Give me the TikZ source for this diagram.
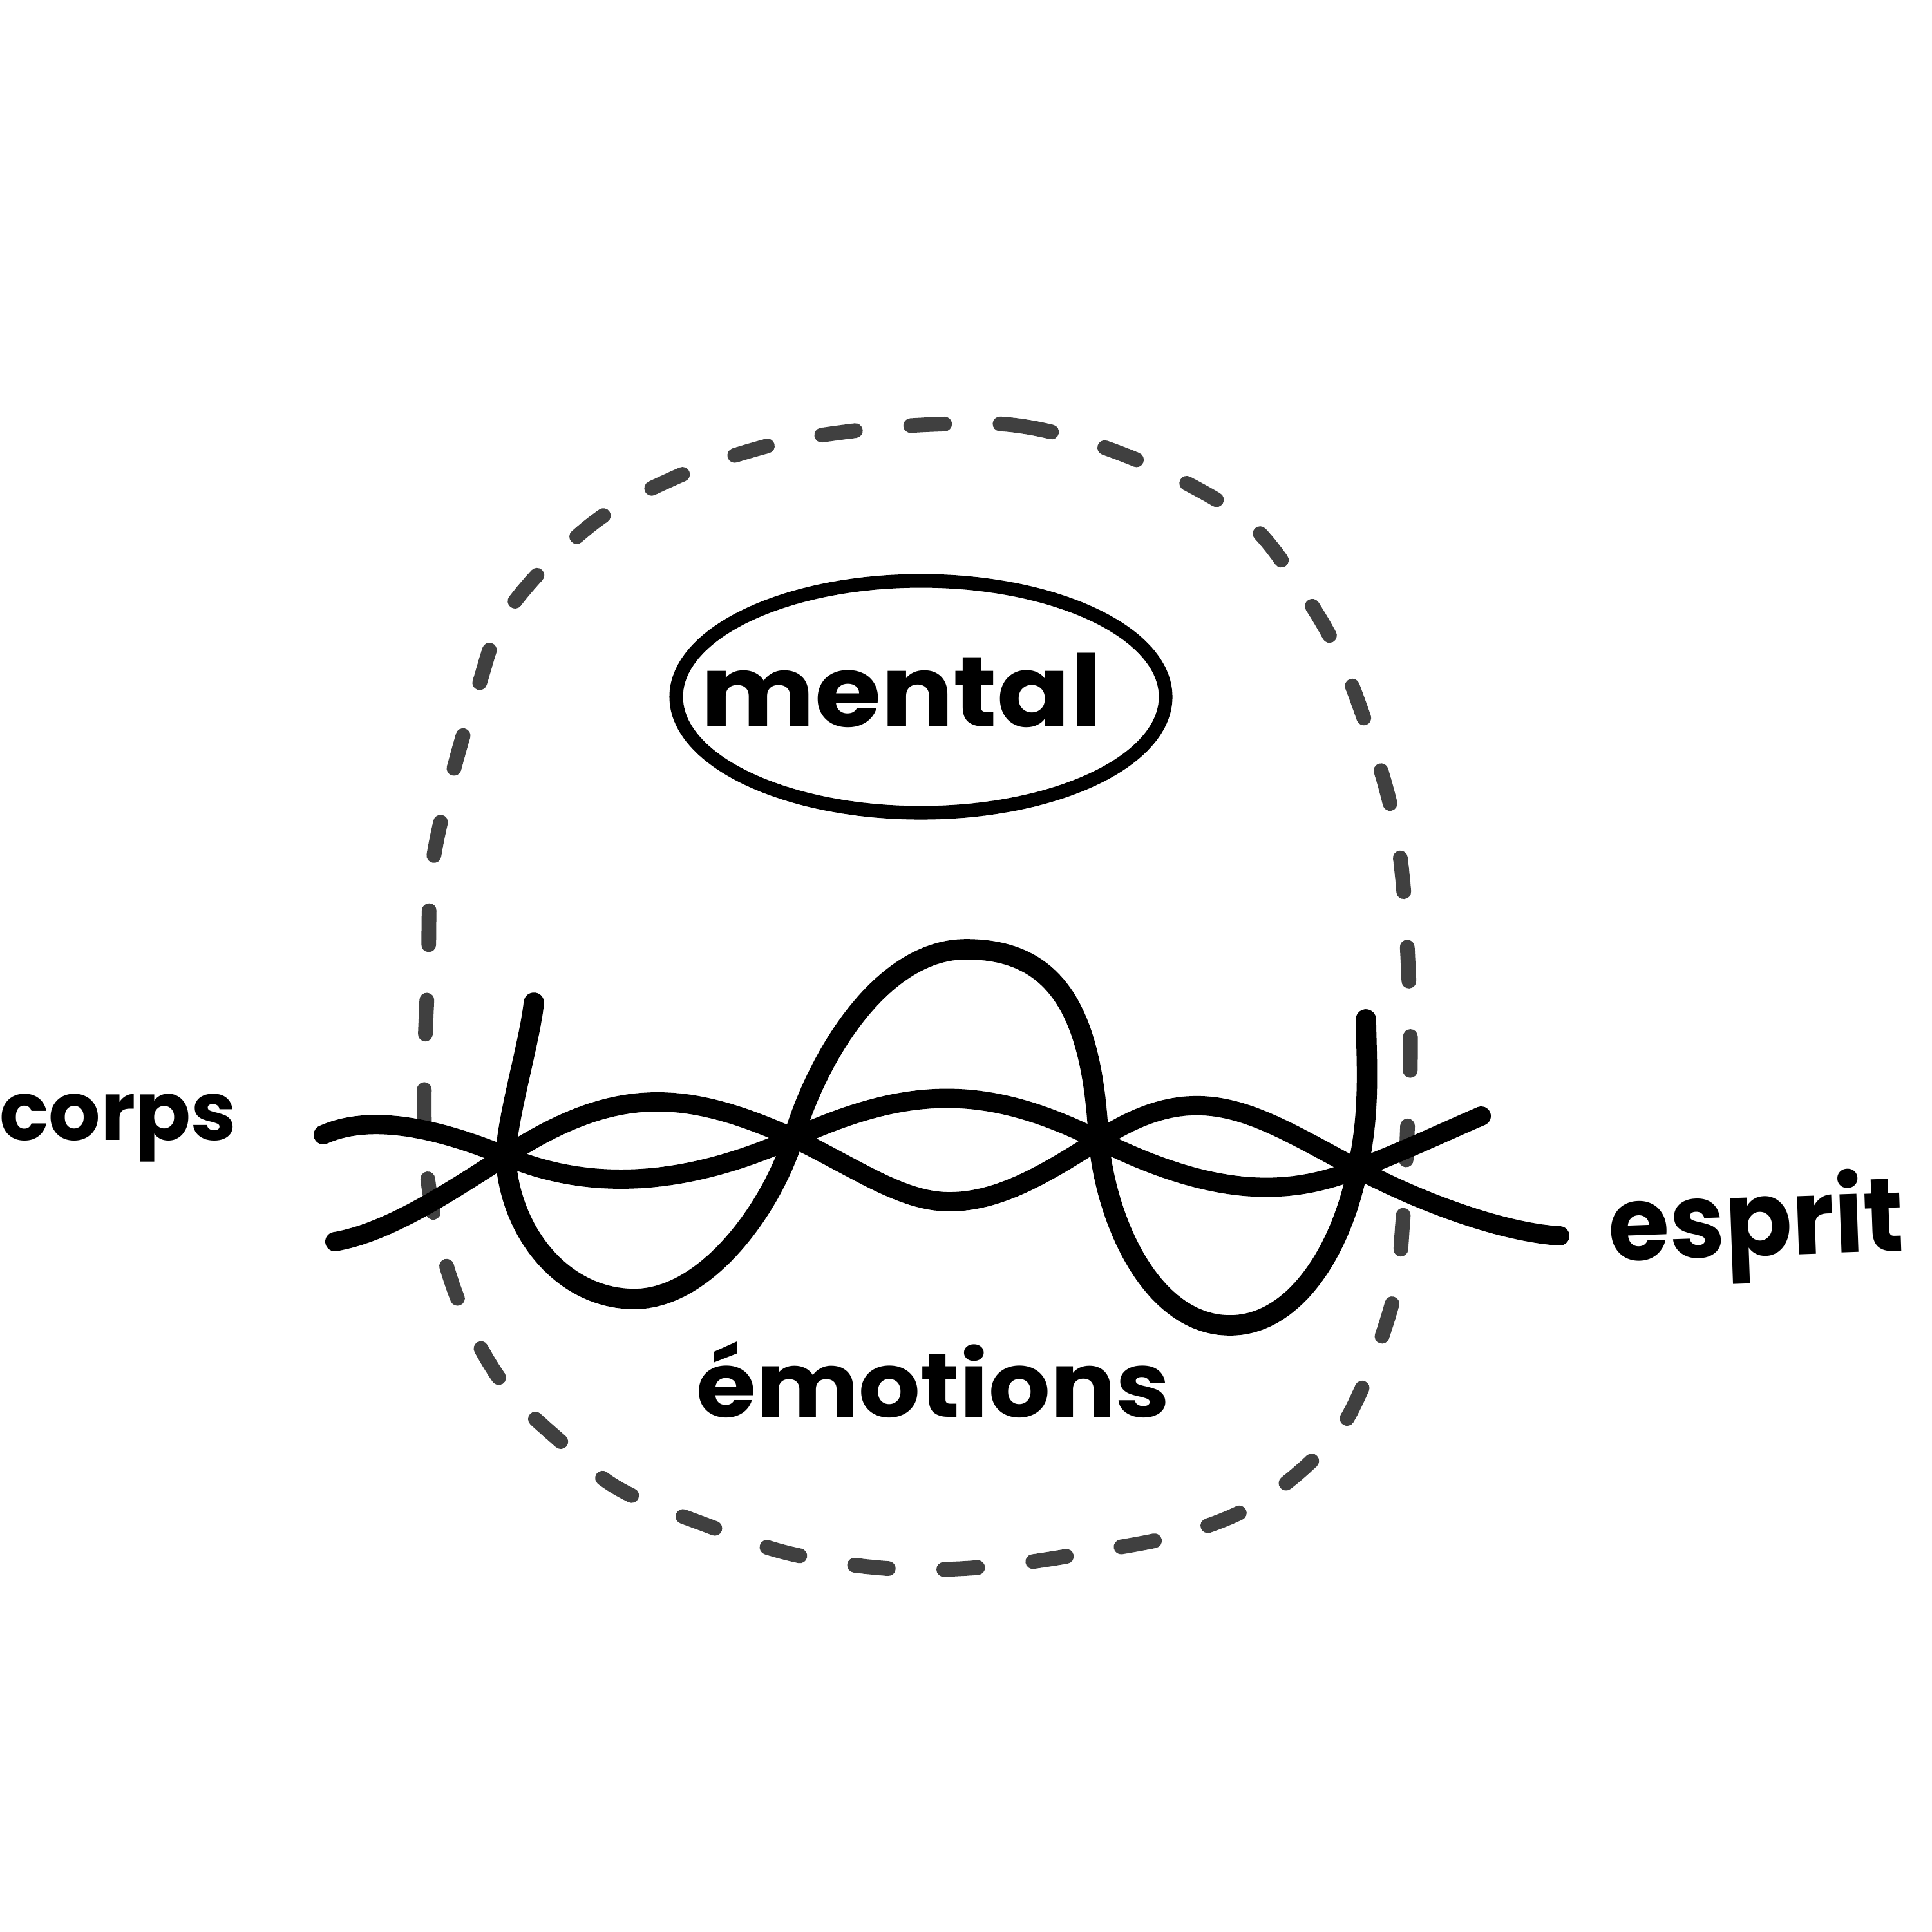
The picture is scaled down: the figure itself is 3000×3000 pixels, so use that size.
\documentclass[tikz,border=0pt]{standalone}
\usepackage{fontspec}
\newfontfamily\hand{Poppins}
\begin{document}
\begin{tikzpicture}[x=0.01cm, y=-0.01cm, line cap=round, line join=round]
\tikzset{
  wave/.style={line width=8.5pt, draw=black},
  loopline/.style={line width=9pt, draw=black},
  ring/.style={line width=6pt, draw=black},
  dashring/.style={line width=6.5pt, draw=black!75, dash pattern=on 15pt off 24.5pt},
  handtext/.style={inner sep=0pt, text=black}
}
\useasboundingbox[fill=white] (0,0) rectangle (3000,3000);

% crossing points and free ends
\coordinate (c1) at (785,1795);
\coordinate (c2) at (1232,1767);
\coordinate (c3) at (1706,1770);
\coordinate (c4) at (2108,1815);
\coordinate (w1s) at (502,1762);
\coordinate (w1e) at (2300,1733);
\coordinate (w2s) at (520,1928);
\coordinate (w2e) at (2422,1919);
\coordinate (ls) at (829,1557);
\coordinate (le) at (2121,1583);
\coordinate (lb1) at (985,2017);
\coordinate (ltop) at (1500,1474);
\coordinate (lb2) at (1910,2058);
\coordinate (wb) at (1474,1866);

% dashed outer outline
\draw[dashring] plot[smooth cycle, tension=0.6] coordinates {
 (1451,659) (1581,661) (1712,694) (1842,750) (1945,817) (2021,916) (2080,1018)
 (2129,1148) (2162,1263) (2178,1365) (2188,1530) (2190,1650) (2186,1740)
 (2178,1900) (2164,2015) (2113,2160) (2059,2246) (1956,2332) (1842,2380)
 (1712,2407) (1544,2432) (1386,2436) (1229,2413) (1099,2369) (963,2313)
 (877,2244) (790,2160) (730,2061) (690,1954) (663,1820) (659,1667) (665,1500)
 (670,1355) (698,1220) (741,1072) (790,947) (915,817) (1045,743) (1186,694)
 (1310,671)};

% mental ring
\draw[ring] (1430,1082) ellipse [x radius=380, y radius=180];

% wave 1 (upper left to upper right)
\draw[wave] (w1s) .. controls (560,1736) and (649,1739) .. (c1)
  .. controls (932,1857) and (1085,1833) .. (c2)
  .. controls (1409,1687) and (1529,1682) .. (c3)
  .. controls (1896,1865) and (2010,1854) .. (c4)
  .. controls (2188,1784) and (2255,1752) .. (w1e);

% wave 2 (lower left to lower right)
\draw[wave] (w2s) .. controls (602,1914) and (695,1853) .. (c1)
  .. controls (954,1685) and (1063,1691) .. (c2)
  .. controls (1330,1814) and (1400,1866) .. (wb)
  .. controls (1550,1866) and (1620,1825) .. (c3)
  .. controls (1864,1667) and (1950,1731) .. (c4)
  .. controls (2208,1868) and (2335,1914) .. (w2e);

% big loop
\draw[loopline] (ls) .. controls (822,1620) and (789,1728) .. (c1)
  .. controls (791,1915) and (875,2017) .. (lb1)
  .. controls (1095,2017) and (1196,1880) .. (c2)
  .. controls (1274,1628) and (1375,1474) .. (ltop)
  .. controls (1640,1474) and (1696,1570) .. (c3)
  .. controls (1718,1900) and (1790,2058) .. (lb2)
  .. controls (2010,2058) and (2083,1942) .. (c4)
  .. controls (2128,1728) and (2122,1650) .. (le);

% labels
\node[handtext, anchor=base, xscale=1.08] (mental) at (1400,1128)
  {\hand\bfseries\fontsize{44}{54}\selectfont mental};
\node[handtext, anchor=base west, xscale=1.07] (emotions) at (1081,2200)
  {\hand\bfseries\fontsize{40}{48}\selectfont émotions};
\node[handtext, anchor=base east] (corps) at (368,1770)
  {\hand\bfseries\fontsize{36}{44}\selectfont corps};
\node[handtext, anchor=base west, rotate=2, xscale=0.95] (esprit) at (2499,1958)
  {\hand\bfseries\fontsize{46}{55}\selectfont esprit};
\end{tikzpicture}
\end{document}
